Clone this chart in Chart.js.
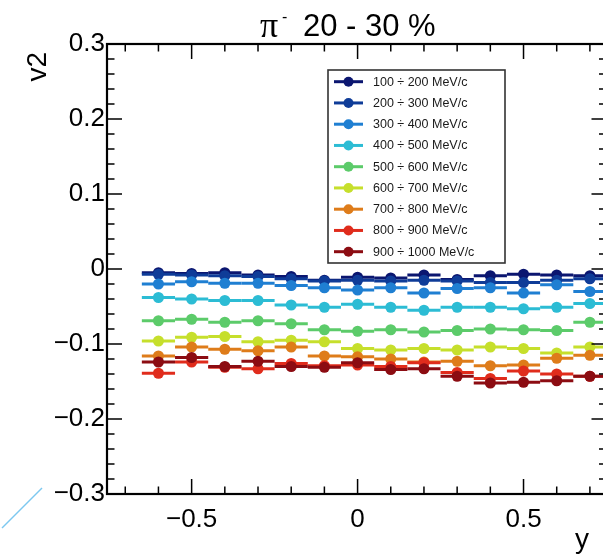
<!DOCTYPE html>
<html>
<head>
<meta charset="utf-8">
<script src="https://cdn.jsdelivr.net/npm/chart.js@4.4.1/dist/chart.umd.min.js"></script>
<style>
  html, body { margin: 0; padding: 0; background: #fff; overflow: hidden; }
  #wrap { width: 612px; height: 558px; }
</style>
</head>
<body>
<div id="wrap"><canvas id="chart" width="612" height="558"></canvas></div>
<script>
// rapidity bin centres and pt bins
const rapidity = [-0.6, -0.5, -0.4, -0.3, -0.2, -0.1, 0, 0.1, 0.2, 0.3, 0.4, 0.5, 0.6, 0.7];
const xErr = 0.05;
const ptBins = ['100 ÷ 200 MeV/c', '200 ÷ 300 MeV/c', '300 ÷ 400 MeV/c', '400 ÷ 500 MeV/c',
  '500 ÷ 600 MeV/c', '600 ÷ 700 MeV/c', '700 ÷ 800 MeV/c', '800 ÷ 900 MeV/c', '900 ÷ 1000 MeV/c'];
const binColors = ['#0b1670', '#0f3c98', '#1f7fd2', '#2cbcd4', '#5ccb6a', '#c6df2c', '#de7c1a', '#e02c1c', '#8c0c12'];

// v2 per pt bin
const v2_100_200  = [-0.005, -0.006, -0.005, -0.008, -0.010, -0.015, -0.011, -0.012, -0.008, -0.014, -0.009, -0.007, -0.008, -0.009];
const v2_200_300  = [-0.007, -0.008, -0.009, -0.010, -0.013, -0.016, -0.015, -0.016, -0.015, -0.016, -0.018, -0.018, -0.015, -0.013];
const v2_300_400  = [-0.020, -0.017, -0.019, -0.019, -0.022, -0.025, -0.028, -0.025, -0.032, -0.026, -0.025, -0.032, -0.021, -0.030];
const v2_400_500  = [-0.038, -0.040, -0.042, -0.042, -0.048, -0.051, -0.047, -0.051, -0.055, -0.051, -0.051, -0.053, -0.051, -0.046];
const v2_500_600  = [-0.069, -0.067, -0.071, -0.069, -0.073, -0.081, -0.083, -0.081, -0.084, -0.082, -0.080, -0.081, -0.082, -0.071];
const v2_600_700  = [-0.096, -0.091, -0.090, -0.097, -0.095, -0.097, -0.106, -0.108, -0.106, -0.108, -0.104, -0.106, -0.112, -0.104];
const v2_700_800  = [-0.116, -0.104, -0.107, -0.109, -0.104, -0.116, -0.117, -0.120, -0.124, -0.123, -0.129, -0.128, -0.119, -0.115];
const v2_800_900  = [-0.139, -0.124, -0.131, -0.133, -0.126, -0.129, -0.128, -0.130, -0.125, -0.138, -0.146, -0.136, -0.140, -0.143];
const v2_900_1000 = [-0.124, -0.118, -0.130, -0.123, -0.130, -0.131, -0.125, -0.134, -0.133, -0.143, -0.152, -0.151, -0.149, -0.143];
const allSeries = [v2_100_200, v2_200_300, v2_300_400, v2_400_500, v2_500_600, v2_600_700, v2_700_800, v2_800_900, v2_900_1000];

const xTicks = [-0.5, 0, 0.5];
const yTicks = [-0.3, -0.2, -0.1, 0, 0.1, 0.2, 0.3];
const xMin = -0.755, xMax = 0.75;
const yMin = -0.3, yMax = 0.3;

const FONT = "'Liberation Sans', Arial, Helvetica, sans-serif";

function fmt(v) {
  if (Math.abs(v) < 1e-9) return '0';
  const s = Math.abs(v).toFixed(1);
  return v < 0 ? '\u2212' + s : s;
}

const rootStyle = {
  id: 'rootStyle',
  beforeDatasetDraw(chart, args) {
    // horizontal error bars, drawn under the markers of the same graph
    const ctx = chart.ctx, area = chart.chartArea;
    const xs = chart.scales.x, ys = chart.scales.y;
    const ds = chart.data.datasets[args.index];
    ctx.save();
    ctx.beginPath();
    ctx.rect(area.left, area.top, area.right - area.left, area.bottom - area.top);
    ctx.clip();
    ctx.strokeStyle = ds.backgroundColor;
    ctx.lineWidth = 3.2;
    ds.data.forEach(p => {
      const py = ys.getPixelForValue(p.y);
      ctx.beginPath();
      ctx.moveTo(xs.getPixelForValue(p.x - xErr), py);
      ctx.lineTo(xs.getPixelForValue(p.x + xErr), py);
      ctx.stroke();
    });
    ctx.restore();
  },
  afterDraw(chart) {
    const ctx = chart.ctx, a = chart.chartArea;
    const xs = chart.scales.x, ys = chart.scales.y;
    ctx.save();
    ctx.strokeStyle = '#000';

    // ticks (inside the frame, ROOT style)
    ctx.lineWidth = 1.5;
    const major = 15, minor = 7.5;
    for (let i = -30; i <= 30; i += 2) {
      const v = i / 100, py = ys.getPixelForValue(v);
      const len = (i % 10 === 0) ? major : minor;
      ctx.beginPath();
      ctx.moveTo(a.left, py); ctx.lineTo(a.left + len, py);
      ctx.moveTo(a.right, py); ctx.lineTo(a.right - len, py);
      ctx.stroke();
    }
    for (let i = -7; i <= 7; i++) {
      const v = i / 10, px = xs.getPixelForValue(v);
      const len = (i % 5 === 0) ? major : minor;
      ctx.beginPath();
      ctx.moveTo(px, a.bottom); ctx.lineTo(px, a.bottom - len);
      ctx.moveTo(px, a.top); ctx.lineTo(px, a.top + len);
      ctx.stroke();
    }

    // frame
    ctx.lineWidth = 2.2;
    ctx.strokeRect(a.left, a.top, a.right - a.left, a.bottom - a.top);

    // title
    ctx.fillStyle = '#000';
    ctx.textBaseline = 'alphabetic';
    ctx.textAlign = 'left';
    ctx.font = "36px 'Liberation Serif', 'DejaVu Serif', serif";
    ctx.fillText('\u03c0', 260, 37);
    ctx.font = '16px ' + FONT;
    ctx.fillText('-', 282, 22);
    ctx.font = '31px ' + FONT;
    ctx.fillText('20 - 30 %', 303, 36);

    // axis titles
    ctx.font = '28px ' + FONT;
    ctx.textAlign = 'right';
    ctx.fillText('y', 589, 548);
    ctx.save();
    ctx.translate(46, 52);
    ctx.rotate(-Math.PI / 2);
    ctx.textAlign = 'right';
    ctx.textBaseline = 'alphabetic';
    ctx.fillText('v2', 0, 0);
    ctx.restore();

    // legend
    const lx = 328, ly = 70, lw = 177, lh = 193;
    ctx.fillStyle = '#fff';
    ctx.fillRect(lx, ly, lw, lh);
    ctx.lineWidth = 1.6;
    ctx.strokeStyle = '#333';
    ctx.strokeRect(lx, ly, lw, lh);
    ctx.font = '12.5px ' + FONT;
    ctx.textAlign = 'left';
    ctx.textBaseline = 'middle';
    ptBins.forEach((label, i) => {
      const yy = 81.7 + i * 21.25;
      ctx.strokeStyle = binColors[i];
      ctx.lineWidth = 3;
      ctx.beginPath();
      ctx.moveTo(334, yy); ctx.lineTo(363, yy);
      ctx.stroke();
      ctx.fillStyle = binColors[i];
      ctx.beginPath();
      ctx.arc(348.5, yy, 5, 0, Math.PI * 2);
      ctx.fill();
      ctx.fillStyle = '#1a1a1a';
      ctx.fillText(label, 373, yy + 0.5);
    });

    // stray light-blue stroke in the lower-left corner of the picture
    ctx.strokeStyle = '#7cc8f0';
    ctx.lineWidth = 1.5;
    ctx.beginPath();
    ctx.moveTo(2, 528); ctx.lineTo(42, 488);
    ctx.stroke();
    ctx.restore();
  }
};

const datasets = allSeries.map((vals, i) => ({
  label: ptBins[i],
  data: rapidity.map((x, k) => ({ x: x, y: vals[k] })),
  backgroundColor: binColors[i],
  borderColor: binColors[i],
  pointRadius: 5.5,
  pointBorderWidth: 0,
  showLine: false,
  order: ptBins.length - i
}));

new Chart(document.getElementById('chart'), {
  type: 'scatter',
  data: { datasets: datasets },
  plugins: [rootStyle],
  options: {
    responsive: false,
    animation: false,
    devicePixelRatio: 1,
    layout: { padding: { top: 44, right: 1, left: 0, bottom: 0 } },
    plugins: { legend: { display: false }, tooltip: { enabled: false } },
    scales: {
      x: {
        type: 'linear',
        min: xMin, max: xMax,
        grid: { display: false, drawTicks: false },
        border: { display: false },
        afterBuildTicks: s => { s.ticks = xTicks.map(v => ({ value: v })); },
        afterFit: s => { s.height = 64; },
        ticks: {
          color: '#000', padding: 10, maxRotation: 0, autoSkip: false,
          font: { family: FONT, size: 26 },
          callback: v => fmt(v)
        }
      },
      y: {
        type: 'linear',
        min: yMin, max: yMax,
        grid: { display: false, drawTicks: false },
        border: { display: false },
        afterBuildTicks: s => { s.ticks = yTicks.map(v => ({ value: v })); },
        afterFit: s => { s.width = 107; },
        ticks: {
          color: '#000', padding: 2, autoSkip: false,
          font: { family: FONT, size: 26 },
          callback: v => fmt(v)
        }
      }
    }
  }
});
</script>
</body>
</html>
